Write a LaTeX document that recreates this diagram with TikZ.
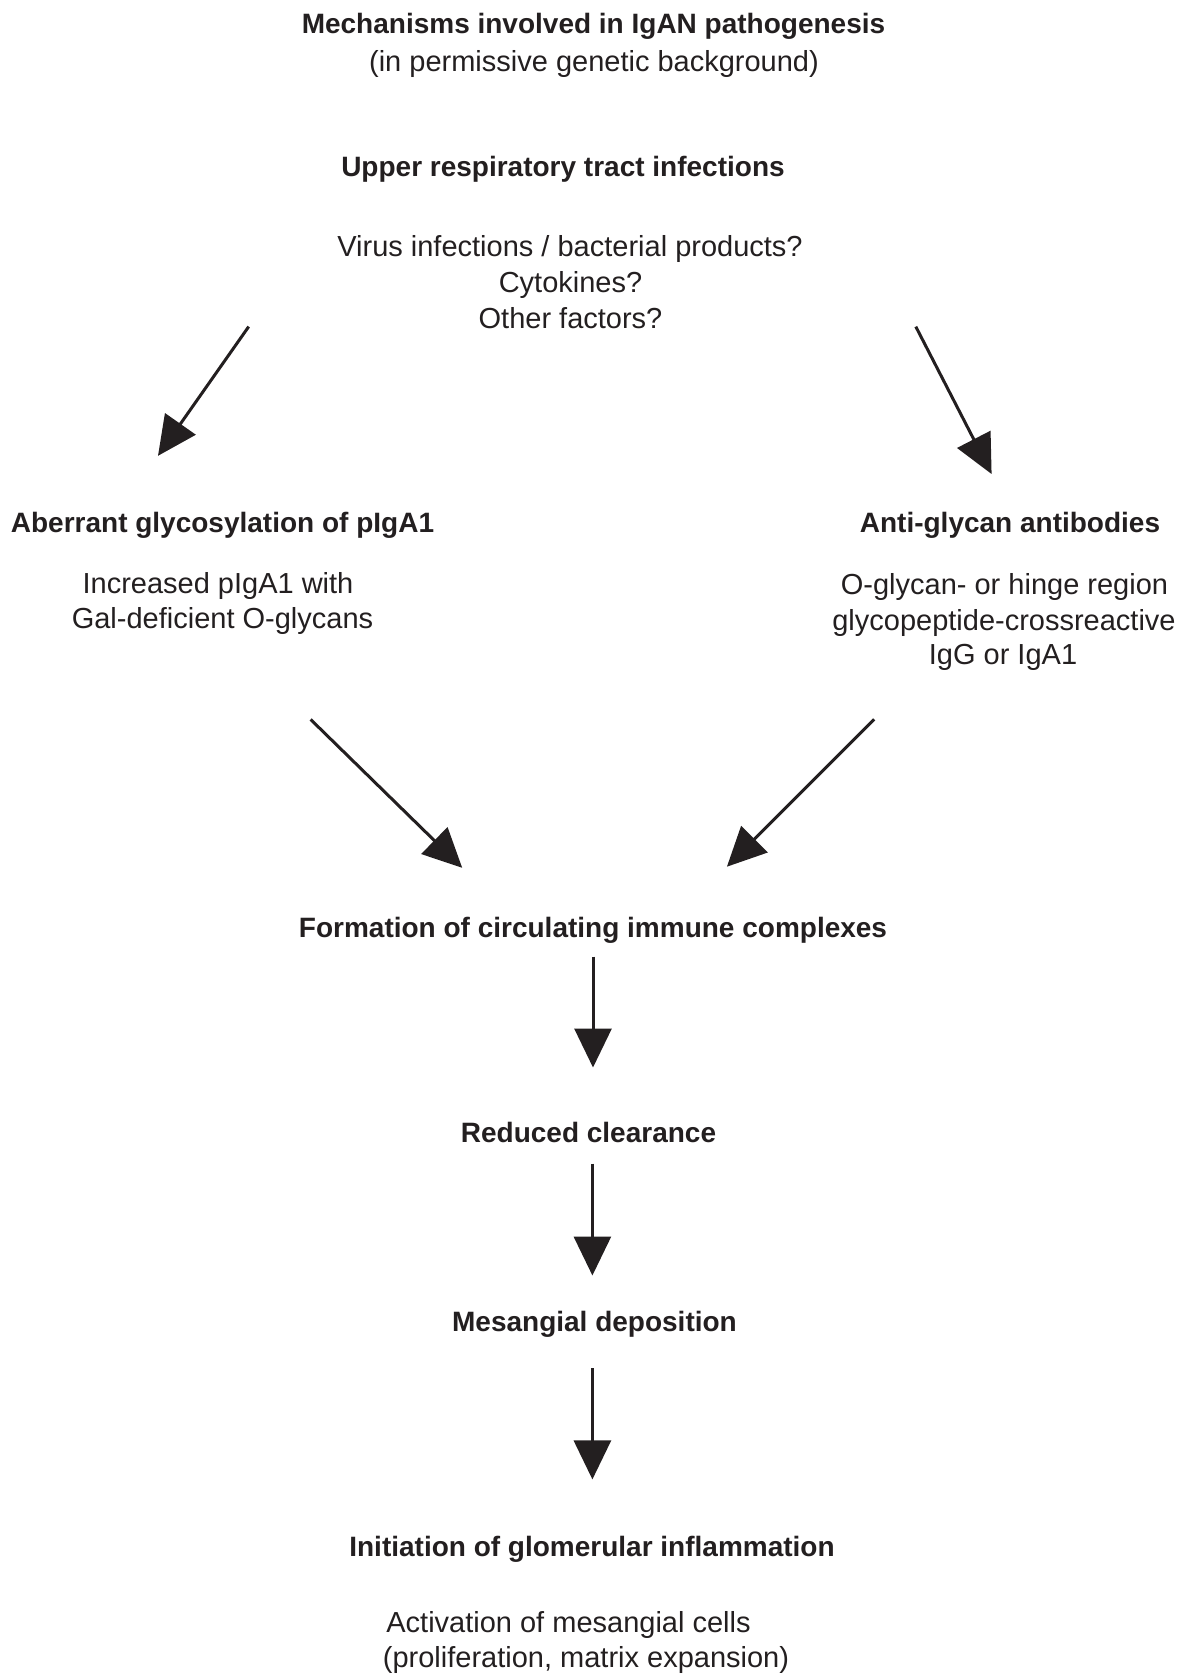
\documentclass[tikz,border=0pt]{standalone}
\usepackage{fontspec}
\setmainfont{Liberation Sans}
\usetikzlibrary{arrows.meta}
\definecolor{ink}{HTML}{231F20}
\tikzset{
  lbl/.style={inner sep=0pt, text height=20pt, text depth=0pt, text=ink, font=\fontsize{29}{34}\selectfont},
  hd/.style={lbl, font=\fontsize{28}{34}\selectfont\bfseries},
  flow/.style={draw=ink, line width=3pt, -{Triangle[length=39pt,width=37pt]}, color=ink}
}
\begin{document}
\begin{tikzpicture}[x=1pt,y=-1pt]
\useasboundingbox (0,0) rectangle (1188,1674);
% texts
\node[hd]  (t1) at (593.5,23.5) {Mechanisms involved in IgAN pathogenesis};
\node[lbl] (t2) at (594,61) {(in permissive genetic background)};
\node[hd]  (up) at (563,166.5) {Upper respiratory tract infections};
\node[lbl] (v1) at (570,246.5) {Virus infections / bacterial products?};
\node[lbl] (v2) at (570.5,282) {Cytokines?};
\node[lbl] (v3) at (570.5,318) {Other factors?};
\node[hd]  (ab) at (222.5,522) {Aberrant glycosylation of pIgA1};
\node[lbl] (ab1) at (218,583) {Increased pIgA1 with};
\node[lbl] (ab2) at (222.5,618) {Gal-deficient O-glycans};
\node[hd]  (an) at (1010,522) {Anti-glycan antibodies};
\node[lbl] (an1) at (1004.5,584) {O-glycan- or hinge region};
\node[lbl] (an2) at (1004,620) {glycopeptide-crossreactive};
\node[lbl] (an3) at (1003,654) {IgG or IgA1};
\node[hd]  (fo) at (593,927.5) {Formation of circulating immune complexes};
\node[hd]  (rc) at (588.5,1132.5) {Reduced clearance};
\node[hd]  (md) at (594.5,1321.5) {Mesangial deposition};
\node[hd]  (gi) at (592,1546.5) {Initiation of glomerular inflammation};
\node[lbl] (gi1) at (568.5,1622.5) {Activation of mesangial cells};
\node[lbl] (gi2) at (586,1657.5) {(proliferation, matrix expansion)};
% arrow end points
\coordinate (a1s) at (248.7,326.6); \coordinate (a1e) at (158,455.8);
\coordinate (a2s) at (915.8,326.6); \coordinate (a2e) at (991.6,474);
\coordinate (a3s) at (310.6,719.4); \coordinate (a3e) at (462.2,867.8);
\coordinate (a4s) at (874.2,719.4); \coordinate (a4e) at (726.9,866.7);
\coordinate (a5s) at (593,956.5);   \coordinate (a5e) at (593,1067.5);
\coordinate (a6s) at (592.4,1163.5); \coordinate (a6e) at (592.4,1275.5);
\coordinate (a7s) at (592.4,1368.4); \coordinate (a7e) at (592.4,1479.4);
\draw[flow] (a1s) -- (a1e);
\draw[flow] (a2s) -- (a2e);
\draw[flow] (a3s) -- (a3e);
\draw[flow] (a4s) -- (a4e);
\draw[flow] (a5s) -- (a5e);
\draw[flow] (a6s) -- (a6e);
\draw[flow] (a7s) -- (a7e);
\end{tikzpicture}
\end{document}
